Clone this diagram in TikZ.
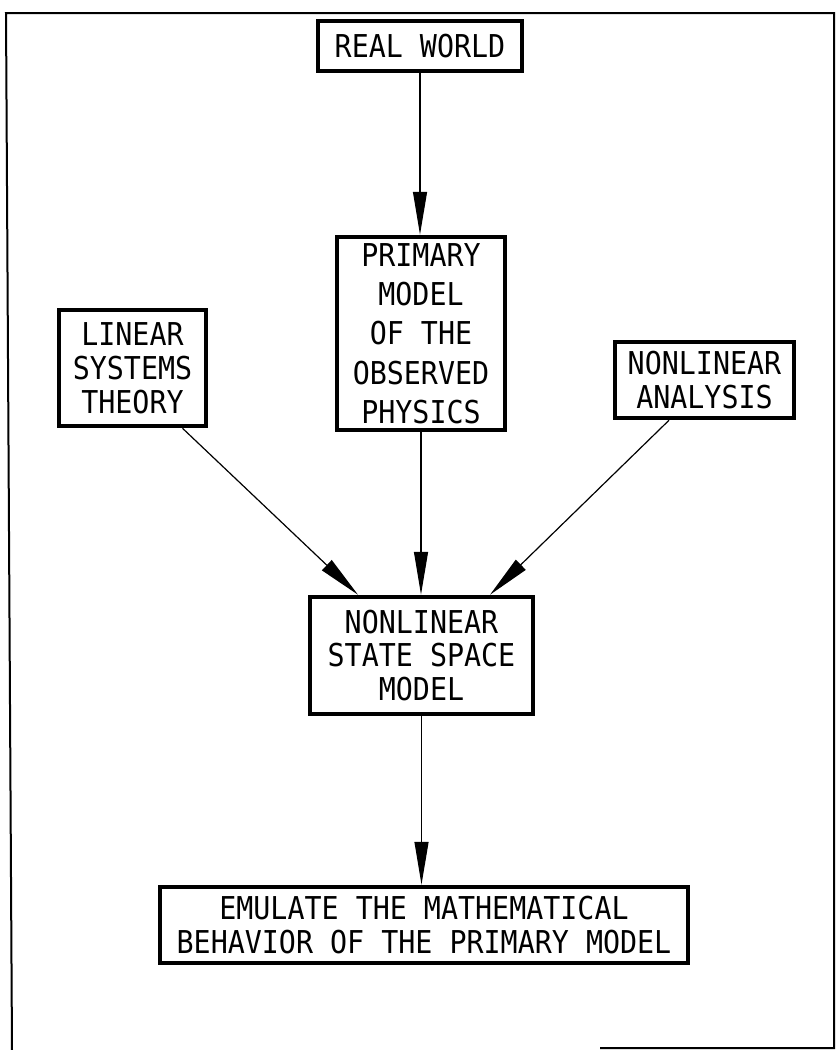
\documentclass[tikz,border=0pt]{standalone}
\usepackage{fontspec}
\newfontfamily\plotfont[FakeStretch=0.9]{DejaVu Sans Mono}
\usetikzlibrary{arrows.meta,calc}
\begin{document}
\begin{tikzpicture}[x=1bp,y=-1bp,
  box/.style={draw,line width=4.5bp,inner sep=0pt,align=center,
    font=\plotfont\fontsize{31.6}{34}\selectfont},
  tallbox/.style={box,font=\plotfont\fontsize{31.6}{39.5}\selectfont},
  conn/.style={line width=1.2bp,-{Triangle[length=43bp,width=14bp]}},
  frame/.style={line width=2bp}]
\useasboundingbox (0,0) rectangle (836,1050);

% outer frame
\coordinate (ftl) at (6,13);
\coordinate (ftr) at (834,13);
\coordinate (fbl) at (12,1050);
\coordinate (fbr) at (834,1048);
\coordinate (fbm) at (600,1048);
\draw[frame] (fbl) -- (ftl) -- (ftr) -- (fbr) -- (fbm);

% boxes
\node[box,minimum width=204bp,minimum height=50bp] (real) at (420,46) {REAL WORLD};
\node[tallbox,minimum width=168bp,minimum height=193bp] (prim) at (421,333.5)
  {PRIMARY\\MODEL\\OF THE\\OBSERVED\\PHYSICS};
\node[box,minimum width=147bp,minimum height=116bp] (lin) at (132.5,368)
  {LINEAR\\SYSTEMS\\THEORY};
\node[box,minimum width=179bp,minimum height=76bp] (nla) at (704.5,380)
  {NONLINEAR\\ANALYSIS};
\node[box,minimum width=223bp,minimum height=117bp] (nss) at (421.5,655.5)
  {NONLINEAR\\STATE SPACE\\MODEL};
\node[box,minimum width=528bp,minimum height=76bp] (emu) at (424,925)
  {EMULATE THE MATHEMATICAL\\BEHAVIOR OF THE PRIMARY MODEL};

% connectors
\draw[conn] (real.south) -- (real.south |- prim.north);
\draw[conn] (prim.south) -- (prim.south |- nss.north);
\draw[conn] ([xshift=50bp]lin.south) -- ([xshift=-63.5bp]nss.north);
\draw[conn] ([xshift=-35.5bp]nla.south) -- ([xshift=68.5bp]nss.north);
\draw[conn] (nss.south) -- (nss.south |- emu.north);
\end{tikzpicture}
\end{document}
